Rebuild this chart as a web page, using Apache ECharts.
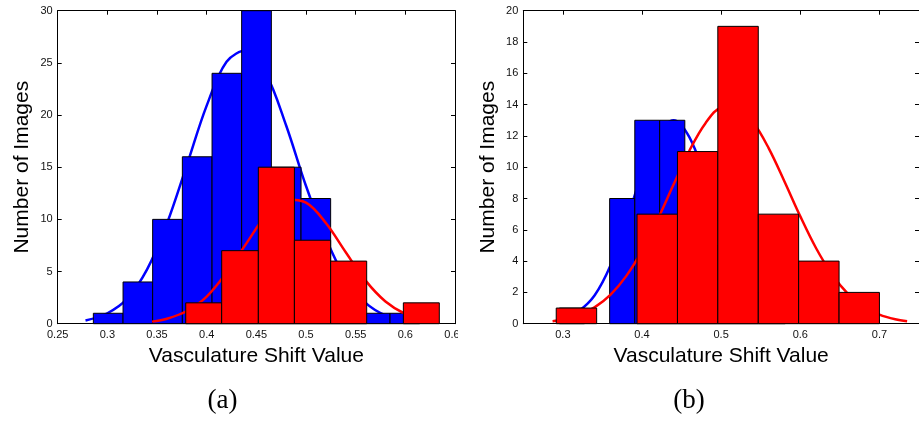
<!DOCTYPE html>
<html>
<head>
<meta charset="utf-8">
<script src="https://cdn.jsdelivr.net/npm/echarts@6/dist/echarts.min.js"></script>
<style>
html,body{margin:0;padding:0;background:#fff;}
#chart{width:919px;height:421px;}
</style>
</head>
<body>
<div id="chart"></div>
<script>
// ---------- Data ----------
// Panel (a)
const leftBlueEdges  = [0.2859, 0.3158, 0.3456, 0.3755, 0.4054, 0.4352, 0.4651, 0.4950, 0.5248, 0.5547, 0.5846, 0.6144];
const leftBlueCounts = [1, 4, 10, 16, 24, 30, 15, 12, 5, 1, 1];
const leftRedEdges   = [0.3789, 0.4151, 0.4520, 0.4883, 0.5248, 0.5611, 0.5980, 0.6342];
const leftRedCounts  = [2, 7, 15, 8, 6, 0, 2];
const leftBlueCurveX = [0.278, 0.30, 0.32, 0.34, 0.36, 0.38, 0.40, 0.42, 0.44, 0.46, 0.48, 0.50, 0.52, 0.54, 0.56, 0.58, 0.60, 0.61];
const leftBlueCurveY = [0.3, 1.0, 2.4, 5.2, 9.6, 15.2, 20.9, 25.1, 26.2, 23.9, 19.0, 13.2, 8.2, 4.3, 2.0, 0.8, 0.3, 0.15];
const leftRedCurveX  = [0.345, 0.36, 0.38, 0.40, 0.42, 0.44, 0.46, 0.48, 0.50, 0.52, 0.54, 0.56, 0.58, 0.60, 0.62, 0.634];
const leftRedCurveY  = [0.2, 0.48, 1.22, 2.6, 4.9, 7.7, 10.4, 11.9, 11.6, 9.65, 6.85, 4.13, 2.13, 0.93, 0.35, 0.15];
const leftXTicks     = [0.25, 0.3, 0.35, 0.4, 0.45, 0.5, 0.55, 0.6, 0.65];

// Panel (b)
const rightBlueEdges  = [0.2956, 0.3273, 0.3591, 0.3909, 0.4223, 0.4541, 0.4858, 0.5175, 0.5492, 0.5809];
const rightBlueCounts = [1, 0, 8, 13, 13, 9, 5, 2, 1];
const rightRedEdges   = [0.2916, 0.3427, 0.3937, 0.4448, 0.4958, 0.5469, 0.5979, 0.6490, 0.7000];
const rightRedCounts  = [1, 0, 7, 11, 19, 7, 4, 2];
const rightBlueCurveX = [0.30, 0.32, 0.34, 0.36, 0.38, 0.40, 0.42, 0.44, 0.46, 0.48, 0.50, 0.52, 0.54, 0.56, 0.58];
const rightBlueCurveY = [0.3, 0.8, 1.8, 3.7, 6.5, 9.6, 12.1, 13.0, 11.9, 9.3, 6.2, 3.5, 1.7, 0.7, 0.25];
const rightRedCurveX  = [0.287, 0.30, 0.32, 0.34, 0.36, 0.38, 0.40, 0.42, 0.44, 0.46, 0.48, 0.50, 0.52, 0.54, 0.56, 0.58, 0.60, 0.62, 0.64, 0.66, 0.68, 0.70, 0.72, 0.735];
const rightRedCurveY  = [0.16, 0.27, 0.55, 1.04, 1.84, 3.04, 4.67, 6.69, 8.91, 11.07, 12.8, 13.78, 13.82, 12.9, 11.22, 9.09, 6.86, 4.82, 3.16, 1.92, 1.09, 0.58, 0.28, 0.16];
const rightXTicks     = [0.3, 0.4, 0.5, 0.6, 0.7];

const xTitle = 'Vasculature Shift Value';
const yTitle = 'Number of Images';
const panelLabels = ['(a)', '(b)'];

// ---------- Helpers ----------
const BLUE = '#0000ff', RED = '#ff0000';
const SANS = '"Liberation Sans", Arial, Helvetica, sans-serif';

function binData(edges, counts) {
  const out = [];
  for (let i = 0; i < counts.length; i++) out.push([edges[i], edges[i + 1], counts[i]]);
  return out;
}
function pairs(xs, ys) { return xs.map((x, i) => [x, ys[i]]); }

function histSeries(edges, counts, color, gi, z) {
  return {
    type: 'custom',
    xAxisIndex: gi * 2, yAxisIndex: gi * 2, z: z,
    encode: { x: [0, 1], y: 2 },
    data: binData(edges, counts),
    renderItem: function (params, api) {
      const h = api.value(2);
      if (!h) return null;
      const p0 = api.coord([api.value(0), h]);
      const p1 = api.coord([api.value(1), 0]);
      return {
        type: 'rect',
        shape: { x: p0[0], y: p0[1], width: p1[0] - p0[0], height: p1[1] - p0[1] },
        style: { fill: color, stroke: '#000', lineWidth: 1 }
      };
    }
  };
}
function curveSeries(xs, ys, color, gi, z) {
  return {
    type: 'line', xAxisIndex: gi * 2, yAxisIndex: gi * 2, z: z,
    data: pairs(xs, ys), smooth: 0.35,
    showSymbol: false, symbol: 'none', silent: true,
    lineStyle: { color: color, width: 2.5 }
  };
}

const axisLine = { show: true, onZero: false, lineStyle: { color: '#000', width: 1 } };
const tick = { show: true, inside: true, length: 4, lineStyle: { color: '#000', width: 1 } };
const labelStyle = { color: '#111', fontSize: 11, fontFamily: SANS };

function xAxes(gi, min, max, ticks) {
  return [
    { type: 'value', gridIndex: gi, position: 'bottom', min: min, max: max,
      axisLine: axisLine, splitLine: { show: false },
      axisTick: Object.assign({ customValues: ticks }, tick),
      axisLabel: Object.assign({ customValues: ticks, margin: 6, showMinLabel: true, showMaxLabel: true,
        formatter: v => String(+v.toFixed(2)) }, labelStyle),
      name: xTitle, nameLocation: 'middle', nameGap: 18,
      nameTextStyle: { fontSize: 21, color: '#000', fontFamily: SANS } },
    { type: 'value', gridIndex: gi, position: 'top', min: min, max: max,
      axisLine: axisLine, splitLine: { show: false },
      axisTick: Object.assign({ customValues: ticks }, tick),
      axisLabel: { show: false } }
  ];
}
function yAxes(gi, max, interval) {
  return [
    { type: 'value', gridIndex: gi, position: 'left', min: 0, max: max, interval: interval,
      axisLine: axisLine, splitLine: { show: false }, axisTick: tick,
      axisLabel: Object.assign({ margin: 5 }, labelStyle),
      name: yTitle, nameLocation: 'middle', nameGap: 25, nameRotate: 90,
      nameTextStyle: { fontSize: 21, color: '#000', fontFamily: SANS } },
    { type: 'value', gridIndex: gi, position: 'right', min: 0, max: max, interval: interval,
      axisLine: axisLine, splitLine: { show: false }, axisTick: tick,
      axisLabel: { show: false } }
  ];
}

const option = {
  animation: false,
  backgroundColor: '#fff',
  grid: [
    { left: 57.7, top: 10.7, width: 397.3, height: 313 },
    { left: 523.3, top: 10.7, width: 398, height: 313 }
  ],
  xAxis: [].concat(xAxes(0, 0.25, 0.65, leftXTicks), xAxes(1, 0.25, 0.75, rightXTicks)),
  yAxis: [].concat(yAxes(0, 30, 5), yAxes(1, 20, 2)),
  series: [
    curveSeries(leftBlueCurveX, leftBlueCurveY, BLUE, 0, 1),
    histSeries(leftBlueEdges, leftBlueCounts, BLUE, 0, 2),
    curveSeries(leftRedCurveX, leftRedCurveY, RED, 0, 3),
    histSeries(leftRedEdges, leftRedCounts, RED, 0, 4),
    curveSeries(rightBlueCurveX, rightBlueCurveY, BLUE, 1, 1),
    histSeries(rightBlueEdges, rightBlueCounts, BLUE, 1, 2),
    curveSeries(rightRedCurveX, rightRedCurveY, RED, 1, 3),
    histSeries(rightRedEdges, rightRedCounts, RED, 1, 4)
  ],
  graphic: [
    // crop of panel (a) cuts its last tick label, as in the original figure
    { type: 'rect', z: 100, shape: { x: 458, y: 326, width: 40, height: 20 }, style: { fill: '#fff' } },
    { type: 'text', z: 100, x: 222.5, y: 401,
      style: { text: panelLabels[0], font: '27px "Liberation Serif", "Times New Roman", serif', fill: '#000', align: 'center', verticalAlign: 'middle' } },
    { type: 'text', z: 100, x: 689, y: 401,
      style: { text: panelLabels[1], font: '27px "Liberation Serif", "Times New Roman", serif', fill: '#000', align: 'center', verticalAlign: 'middle' } }
  ]
};

const chart = echarts.init(document.getElementById('chart'), null, { renderer: 'canvas' });
chart.setOption(option);
</script>
</body>
</html>
